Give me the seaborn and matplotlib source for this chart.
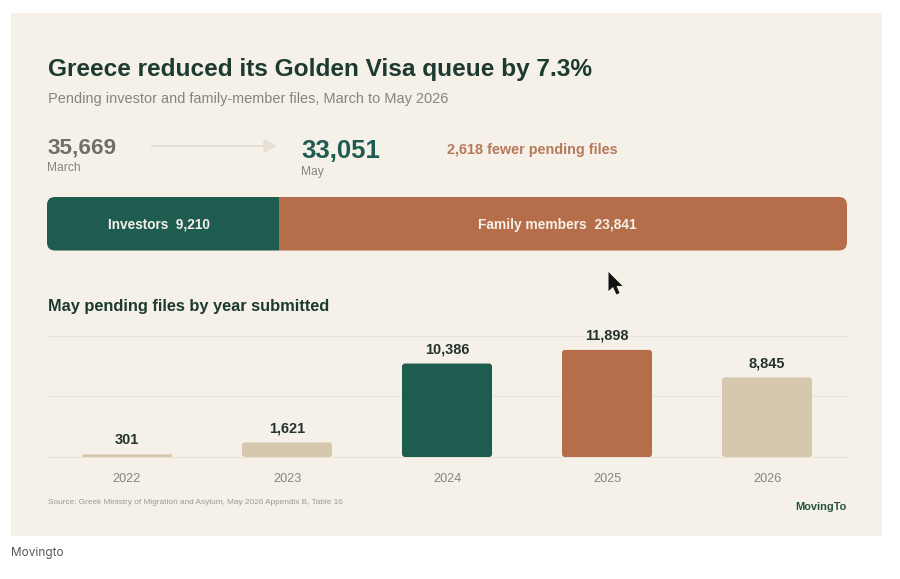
import matplotlib
matplotlib.use("Agg")
import matplotlib.pyplot as plt
from matplotlib.patches import FancyBboxPatch, Rectangle, Polygon, FancyArrowPatch
import pandas as pd
import seaborn as sns

years = ["2022", "2023", "2024", "2025", "2026"]
pending_by_year = [301, 1621, 10386, 11898, 8845]
year_colors = ["#D6C8AE", "#D6C8AE", "#1F5C50", "#B66E4A", "#D6C8AE"]
split_labels = ["Investors", "Family members"]
split_values = [9210, 23841]
split_widths_read = [29.0, 71.0]   # drawn share of the bar
split_colors = ["#1F5C50", "#B66E4A"]
march_total = 35669
may_total = 33051
grid_levels = [0, 6750, 13500]

W, H = 900, 579
BG = "#F5F0E8"
DARK = "#1C3A2F"

sns.set_theme(style="white")
plt.rcParams["font.family"] = ["Liberation Sans", "DejaVu Sans"]

fig = plt.figure(figsize=(W / 100, H / 100), dpi=100, facecolor="white")


def T(x, y, s, px, color, weight="normal", ha="left", family=None):
    kw = {"family": family} if family else {}
    return fig.text(x / W, 1 - y / H, s, fontsize=px * 0.72, color=color,
                    fontweight=weight, ha=ha, va="center", **kw)


def px_axes(x0, y0, x1, y1):
    return fig.add_axes([x0 / W, 1 - y1 / H, (x1 - x0) / W, (y1 - y0) / H])


fig.patches.append(Rectangle((11 / W, 1 - 536 / H), 871 / W, 523 / H,
                             transform=fig.transFigure, facecolor=BG, edgecolor="none", zorder=-5))

T(47.5, 69.5, "Greece reduced its Golden Visa queue by 7.3%", 24.4, DARK, "bold")
T(47.5, 99, "Pending investor and family-member files, March to May 2026", 14.5, "#85857E")
T(47.5, 148, f"{march_total:,}", 22.5, "#6F6F66", "bold")
T(47.5, 168, "March", 12, "#85857E")
T(301.5, 151, f"{may_total:,}", 25.7, "#1F5C50", "bold")
T(301.5, 171.5, "May", 12, "#85857E")
T(447, 150, f"{march_total - may_total:,} fewer pending files", 14.4, "#B67A5A", "bold")

fig.patches.append(FancyArrowPatch((152 / W, 1 - 146 / H), (277 / W, 1 - 146 / H),
                                   transform=fig.transFigure, arrowstyle="-|>,head_length=5,head_width=2.6",
                                   mutation_scale=1.5, color="#E6DFD4", linewidth=1.5, shrinkA=0, shrinkB=0))

# split bar
ax_split = px_axes(47, 197, 847, 250.5)
ax_split.set_xlim(0, 100)
ax_split.set_ylim(0, 1)
ax_split.axis("off")
clip = FancyBboxPatch((0, 0), 100, 1, boxstyle="round,pad=0,rounding_size=1.0",
                      mutation_aspect=(1 / 53.5) / (100 / 800), transform=ax_split.transData,
                      facecolor="none", edgecolor="none")
ax_split.add_patch(clip)
left = 0
for lab, val, wid, col in zip(split_labels, split_values, split_widths_read, split_colors):
    b = ax_split.barh([0.5], [wid], left=left, height=1, color=col, linewidth=0)
    b[0].set_clip_path(clip)
    left += wid
T(158.5, 224.5, f"{split_labels[0]}  {split_values[0]:,}", 13.6, "#F5F0E8", "bold", ha="center")
T(557, 224.5, f"{split_labels[1]}  {split_values[1]:,}", 13.7, "#F5F0E8", "bold", ha="center")

T(47.5, 306.5, "May pending files by year submitted", 16.4, DARK, "bold")

# year chart
df = pd.DataFrame({"year": years, "files": pending_by_year})
ax = px_axes(47, 335.5, 847, 457)
ax.set_facecolor("none")
for lv in grid_levels:
    ax.axhline(lv, color="#E9E2D7", linewidth=0.8, zorder=0, clip_on=False)
sns.barplot(data=df, x="year", y="files", hue="year", palette=year_colors, legend=False,
            width=0.5625, gap=0, ax=ax, saturation=1, zorder=2)
ax.set_xlim(-0.5, 4.5)
ax.set_ylim(0, 13500)
ax.set_xlabel("")
ax.set_ylabel("")
ax.set_yticks([])
sns.despine(ax=ax, left=True, bottom=True)
ax.tick_params(axis="x", length=0, pad=11.7, labelsize=12.6 * 0.72, labelcolor="#85857E")

px_x = 800 / 5
px_y = 121.5 / 13500
for patch in list(ax.patches):
    x, y, w, h = patch.get_x(), patch.get_y(), patch.get_width(), patch.get_height()
    if h <= 0:
        continue
    col = patch.get_facecolor()
    patch.set_visible(False)
    r = min(3, h * px_y / 2)
    ax.add_patch(FancyBboxPatch((x, y), w, h, boxstyle=f"round,pad=0,rounding_size={r / px_x}",
                                mutation_aspect=px_x / px_y, facecolor=col, edgecolor="none", zorder=2))
    ax.annotate(f"{h:,.0f}", (x + w / 2, h), xytext=(0, 5), textcoords="offset points",
                ha="center", va="bottom", fontsize=14.5 * 0.72, fontweight="bold", color="#24332D", clip_on=False)

T(47.5, 502.5, "Source: Greek Ministry of Migration and Asylum, May 2026 Appendix B, Table 16", 8.25, "#9B9B93")
T(846.5, 507, "MovingTo", 11, "#24543F", "bold", ha="right")
T(11, 553, "Movingto", 11.8, "#55595C", family="Inter")

# mouse pointer visible in the screenshot
pointer = [(608.5, 272), (608.5, 291), (613, 287), (616.5, 294.5), (619.5, 293), (616.5, 286), (622.5, 286)]
fig.patches.append(Polygon([(x / W, 1 - y / H) for x, y in pointer], closed=True,
                           transform=fig.transFigure, facecolor="#111111", edgecolor="none", zorder=10))

fig.savefig("out.png", dpi=100, facecolor="white")
